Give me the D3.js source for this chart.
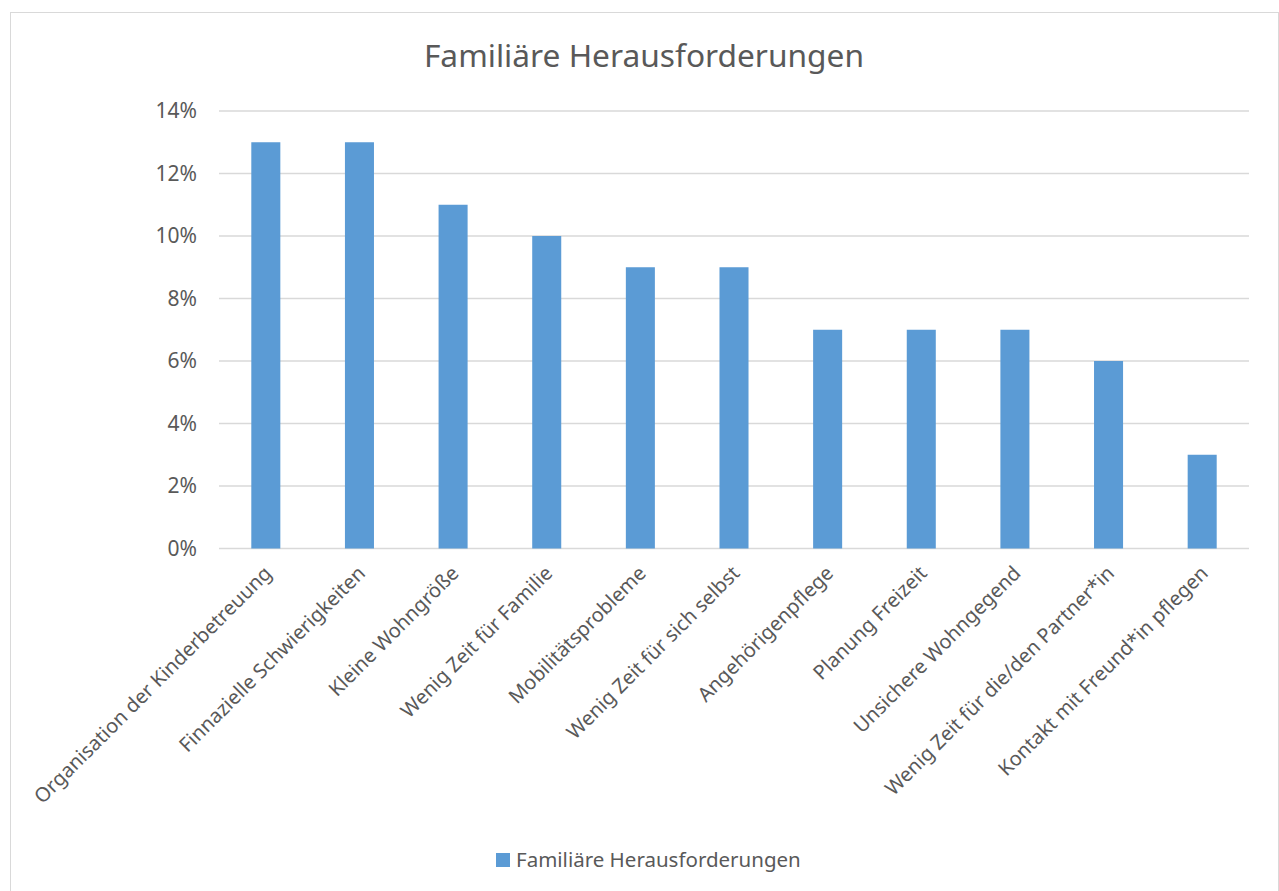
<!DOCTYPE html>
<html><head><meta charset="utf-8">
<script src="https://cdn.jsdelivr.net/npm/d3@7"></script>
<style>body{margin:0;background:#fff}svg{display:block}text{font-family:"Noto Sans",sans-serif;fill:#595959}</style>
</head><body>
<svg id="c" width="1279" height="891"></svg>
<script>
const title = "Familiäre Herausforderungen";
const seriesName = "Familiäre Herausforderungen";
const categories = ["Organisation der Kinderbetreuung","Finnazielle Schwierigkeiten","Kleine Wohngröße","Wenig Zeit für Familie","Mobilitätsprobleme","Wenig Zeit für sich selbst","Angehörigenpflege","Planung Freizeit","Unsichere Wohngegend","Wenig Zeit für die/den Partner*in","Kontakt mit Freund*in pflegen"];
const values = [0.13,0.13,0.11,0.10,0.09,0.09,0.07,0.07,0.07,0.06,0.03];
const yTicks = [0,0.02,0.04,0.06,0.08,0.10,0.12,0.14];

const svg = d3.select("#c");
svg.append("rect").attr("x",10.5).attr("y",12.5).attr("width",1268).attr("height",890).attr("fill","#fff").attr("stroke","#d9d9d9").attr("stroke-width",1);

const x = d3.scaleBand().domain(categories).range([219,1249]).paddingInner(0.69).paddingOuter(0.345);
const y = d3.scaleLinear().domain([0,0.14]).range([548.5,111]);

const grid = svg.append("g");
grid.selectAll("line").data(yTicks).join("line")
  .attr("x1",219).attr("x2",1249).attr("y1",d=>y(d)).attr("y2",d=>y(d))
  .attr("stroke","#d9d9d9").attr("stroke-width",1.5);

const yAxis = svg.append("g").attr("transform","translate(219,0)")
  .call(d3.axisLeft(y).tickValues(yTicks).tickFormat(d3.format(".0%")).tickSize(0).tickPadding(22));
yAxis.select(".domain").remove();
yAxis.selectAll("text").style("font-size","21px").attr("fill","#595959").style("font-family","'Noto Sans',sans-serif");

svg.append("g").selectAll("rect").data(categories).join("rect")
  .attr("x",d=>x(d)).attr("width",x.bandwidth())
  .attr("y",(d,i)=>y(values[i])).attr("height",(d,i)=>y(0)-y(values[i]))
  .attr("fill","#5b9bd5");

const xAxis = svg.append("g").attr("transform","translate(0,548.5)")
  .call(d3.axisBottom(x).tickSize(0).tickPadding(0));
xAxis.select(".domain").remove();
xAxis.selectAll("text").style("font-size","20px").attr("fill","#595959").style("font-family","'Noto Sans',sans-serif")
  .attr("text-anchor","end").attr("dy","0.35em")
  .attr("transform","translate(2,21) rotate(-45)");

svg.append("text").attr("x",644).attr("y",67).attr("text-anchor","middle").style("font-size","31.7px").text(title);

svg.append("rect").attr("x",496).attr("y",853).attr("width",14).attr("height",14).attr("fill","#5b9bd5");
svg.append("text").attr("x",516).attr("y",867).style("font-size","20.5px").text(seriesName);
</script>
</body></html>
